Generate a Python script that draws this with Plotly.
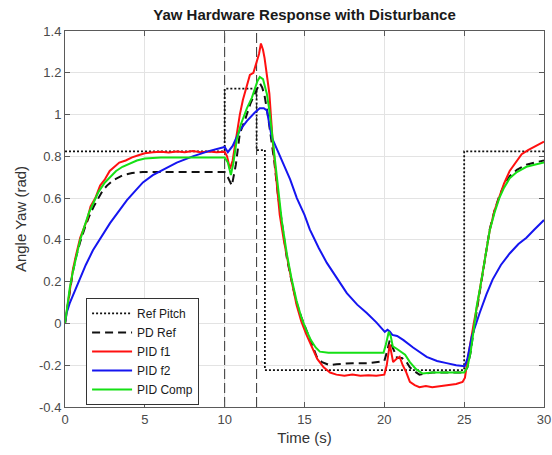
import plotly.graph_objects as go

# Reference pitch command (step profile)
ref_t = [0, 10, 10, 12, 12, 12.52, 12.52, 25, 25, 30]
ref_y = [0.824, 0.824, 1.124, 1.124, 0.83, 0.83, -0.223, -0.223, 0.824, 0.824]

# PD controller tracking the reference
pd_t = [0, 0.15, 0.3, 0.5, 0.7, 0.95, 1.25, 1.5, 1.8, 2.07, 2.35, 2.63, 3.0, 3.63, 4.2, 4.88,
        6, 7, 8, 9, 10.0, 10.2, 10.45, 10.7, 10.95, 11.3, 11.6, 11.89, 12.05, 12.2, 12.35, 12.5,
        12.7, 12.9, 13.1, 13.33, 13.6, 13.9, 14.2, 14.5, 14.8, 15.1, 15.4, 15.77, 16.1, 16.58,
        17, 18, 19, 19.6, 20.0, 20.15, 20.34, 20.55, 20.8, 21.1, 21.35, 21.6, 21.9, 22.2, 23, 24,
        25.0, 25.2, 25.4, 25.6, 25.8, 26.0, 26.3, 26.6, 26.9, 27.2, 27.5, 27.85, 28.3, 28.9, 29.4, 30]
pd_y = [0, 0.08, 0.16, 0.25, 0.32, 0.39, 0.46, 0.51, 0.56, 0.60, 0.635, 0.66, 0.685, 0.71, 0.72, 0.725,
        0.725, 0.725, 0.725, 0.725, 0.725, 0.70, 0.66, 0.76, 0.91, 0.98, 1.05, 1.10, 1.13, 1.15, 1.13, 1.09,
        1.00, 0.90, 0.78, 0.62, 0.46, 0.31, 0.20, 0.10, 0.03, -0.03, -0.09, -0.16, -0.185, -0.20,
        -0.195, -0.19, -0.19, -0.185, -0.18, -0.14, -0.08, -0.12, -0.165, -0.165, -0.18, -0.21, -0.23, -0.245, -0.235, -0.235,
        -0.235, -0.21, -0.14, -0.03, 0.07, 0.17, 0.31, 0.45, 0.54, 0.61, 0.66, 0.705, 0.735, 0.76, 0.77, 0.78]

# PID, filter 1
f1_t = [0, 0.15, 0.3, 0.5, 0.7, 0.95, 1.2, 1.4, 1.6, 1.9, 2.2, 2.5, 2.8, 3.1, 3.4, 3.8, 4.2, 4.6, 5.0,
        5.5, 6, 6.5, 7, 7.5, 8, 8.5, 9, 9.5, 10.0, 10.15, 10.33, 10.5, 10.76, 10.95, 11.14, 11.35, 11.58,
        11.8, 12.0, 12.15, 12.27, 12.4, 12.5, 12.64, 12.8, 13.0, 13.2, 13.45, 13.7, 13.95, 14.2, 14.5,
        14.8, 15.1, 15.4, 15.8, 16.2, 16.6, 17.0, 17.5, 18, 18.5, 19, 19.5, 20.0, 20.15, 20.34, 20.45,
        20.55, 20.75, 20.96, 21.15, 21.35, 21.6, 21.9, 22.2, 22.6, 23, 23.5, 24, 24.5, 24.9, 25.05, 25.2,
        25.4, 25.6, 25.8, 26.0, 26.3, 26.6, 26.9, 27.2, 27.5, 27.85, 28.2, 28.6, 29.0, 29.4, 29.8, 30]
f1_y = [0, 0.08, 0.17, 0.26, 0.33, 0.41, 0.46, 0.50, 0.56, 0.60, 0.66, 0.69, 0.73, 0.75, 0.77, 0.78, 0.795, 0.805, 0.815,
        0.82, 0.822, 0.818, 0.823, 0.82, 0.825, 0.82, 0.823, 0.82, 0.822, 0.80, 0.74, 0.78, 0.92, 1.00, 1.07, 1.13, 1.19,
        1.20, 1.25, 1.29, 1.34, 1.31, 1.27, 1.20, 1.10, 0.88, 0.72, 0.52, 0.40, 0.29, 0.20, 0.09,
        0.01, -0.05, -0.10, -0.17, -0.21, -0.235, -0.245, -0.25, -0.245, -0.25, -0.248, -0.25, -0.245, -0.20, -0.10, -0.14,
        -0.185, -0.17, -0.16, -0.20, -0.23, -0.28, -0.295, -0.305, -0.30, -0.305, -0.30, -0.298, -0.29, -0.28, -0.26, -0.18,
        -0.08, 0.0, 0.08, 0.17, 0.31, 0.445, 0.54, 0.605, 0.67, 0.73, 0.77, 0.81, 0.83, 0.845, 0.86, 0.87]

# PID, filter 2
f2_t = [0, 0.1, 0.31, 0.6, 0.94, 1.3, 1.75, 2.3, 2.82, 3.35, 3.88, 4.4, 4.88, 5.5, 6.0, 7.0, 8.0, 9.0,
        10.0, 10.2, 10.5, 10.95, 11.4, 11.89, 12.2, 12.45, 12.64, 12.8, 12.95, 13.3, 13.64, 14.1, 14.52,
        15.0, 15.33, 15.9, 16.4, 17.0, 17.65, 18.3, 18.9, 19.5, 20.03, 20.2, 20.35, 20.5, 20.8, 21.2,
        21.8, 22.65, 23.3, 23.9, 24.5, 25.03, 25.2, 25.47, 25.7, 25.97, 26.4, 26.78, 27.3, 27.85, 28.4,
        28.9, 29.4, 30]
f2_y = [0, 0.05, 0.10, 0.155, 0.21, 0.28, 0.35, 0.42, 0.48, 0.535, 0.59, 0.635, 0.675, 0.71, 0.73, 0.77, 0.80, 0.825,
        0.845, 0.82, 0.85, 0.925, 0.97, 1.01, 1.03, 1.03, 1.02, 0.96, 0.89, 0.83, 0.77, 0.69, 0.60,
        0.52, 0.45, 0.36, 0.29, 0.22, 0.145, 0.09, 0.05, 0.005, -0.04, -0.03, -0.04, -0.055, -0.06, -0.08,
        -0.115, -0.16, -0.18, -0.19, -0.2, -0.205, -0.17, -0.065, -0.01, 0.05, 0.14, 0.21, 0.28, 0.335, 0.38,
        0.41, 0.45, 0.495]

# PID with compensation
comp_t = [0, 0.15, 0.3, 0.5, 0.7, 0.95, 1.2, 1.5, 1.8, 2.1, 2.5, 2.8, 3.2, 3.6, 4.0, 4.5, 5.0, 6, 7, 8, 9,
          10.0, 10.2, 10.39, 10.55, 10.76, 11.0, 11.39, 11.7, 11.89, 12.05, 12.2, 12.4, 12.64, 12.8, 12.95,
          13.2, 13.58, 13.9, 14.2, 14.5, 14.8, 15.1, 15.4, 15.7, 15.96, 16.5, 17, 18, 19, 19.95, 20.1, 20.28,
          20.4, 20.53, 20.75, 20.96, 21.3, 21.6, 22.0, 22.4, 23, 24, 25.0, 25.2, 25.4, 25.6, 25.78, 26.0,
          26.3, 26.6, 26.9, 27.2, 27.5, 27.85, 28.3, 28.9, 29.4, 30]
comp_y = [0, 0.09, 0.17, 0.25, 0.32, 0.40, 0.46, 0.53, 0.58, 0.63, 0.675, 0.70, 0.73, 0.75, 0.765, 0.78, 0.79, 0.795,
          0.795, 0.795, 0.795, 0.795, 0.77, 0.71, 0.77, 0.88, 0.95, 1.03, 1.08, 1.13, 1.16, 1.18, 1.17, 1.10, 1.02,
          0.92, 0.75, 0.49, 0.33, 0.21, 0.11, 0.03, -0.03, -0.08, -0.115, -0.135, -0.14, -0.14, -0.14, -0.14, -0.14,
          -0.10, -0.04, -0.06, -0.11, -0.12, -0.13, -0.15, -0.185, -0.22, -0.24, -0.235, -0.235, -0.235, -0.21, -0.14,
          -0.03, 0.08, 0.17, 0.31, 0.445, 0.53, 0.60, 0.65, 0.695, 0.725, 0.75, 0.76, 0.77]

# Disturbance instants
disturbance_t = [10, 12]

x_range = [0, 30]
y_range = [-0.4, 1.4]
x_ticks = [0, 5, 10, 15, 20, 25, 30]
y_ticks = [-0.4, -0.2, 0, 0.2, 0.4, 0.6, 0.8, 1, 1.2, 1.4]
y_tick_text = ["-0.4", "-0.2", "0", "0.2", "0.4", "0.6", "0.8", "1", "1.2", "1.4"]

FONT = "Liberation Sans, Arial, Helvetica, sans-serif"

fig = go.Figure()

# Full-height markers at the disturbance instants
for t in disturbance_t:
    fig.add_trace(go.Scatter(x=[t, t], y=y_range, mode="lines", showlegend=False,
                             hoverinfo="skip",
                             line=dict(color="#333333", width=1, dash="10px,4px")))

fig.add_trace(go.Scatter(x=ref_t, y=ref_y, mode="lines", name="Ref Pitch",
                         line=dict(color="#111111", width=1.8, dash="2px,2px")))
fig.add_trace(go.Scatter(x=pd_t, y=pd_y, mode="lines", name="PD Ref",
                         line=dict(color="#111111", width=2, dash="8px,5px")))
fig.add_trace(go.Scatter(x=f1_t, y=f1_y, mode="lines", name="PID f1",
                         line=dict(color="#ff1010", width=2)))
fig.add_trace(go.Scatter(x=f2_t, y=f2_y, mode="lines", name="PID f2",
                         line=dict(color="#1515f0", width=2)))
fig.add_trace(go.Scatter(x=comp_t, y=comp_y, mode="lines", name="PID Comp",
                         line=dict(color="#15e015", width=2)))

axis_common = dict(
    showline=True, linecolor="#5a5a5a", linewidth=1, mirror="ticks",
    ticks="inside", ticklen=5, tickcolor="#5a5a5a", tickwidth=1,
    showgrid=True, gridcolor="#e3e3e3", gridwidth=1, zeroline=False,
    automargin=False,
    tickfont=dict(family=FONT, size=13, color="#4a4a4a"),
)

fig.update_layout(
    width=552, height=455,
    margin=dict(l=65, r=8, t=31, b=48),
    paper_bgcolor="white", plot_bgcolor="white",
    font=dict(family=FONT, color="#262626"),
    title=dict(text="<b>Yaw Hardware Response with Disturbance</b>",
               font=dict(family=FONT, size=15, color="#1a1a1a"),
               x=0.5, xref="paper", xanchor="center",
               y=1 - 15 / 455, yref="container", yanchor="middle"),
    xaxis=dict(range=x_range, tickvals=x_ticks,
               title=dict(text="Time (s)", font=dict(family=FONT, size=15, color="#333333"), standoff=6),
               **axis_common),
    yaxis=dict(range=y_range, tickvals=y_ticks, ticktext=y_tick_text,
               title=dict(text="Angle Yaw (rad)", font=dict(family=FONT, size=15, color="#333333"), standoff=8),
               **axis_common),
    legend=dict(x=0.044, y=0.29, xanchor="left", yanchor="top",
                bgcolor="white", bordercolor="#333333", borderwidth=1,
                font=dict(family=FONT, size=12, color="#1a1a1a"),
                tracegroupgap=0, itemwidth=40),
    showlegend=True,
)

fig.write_html("out.html")
